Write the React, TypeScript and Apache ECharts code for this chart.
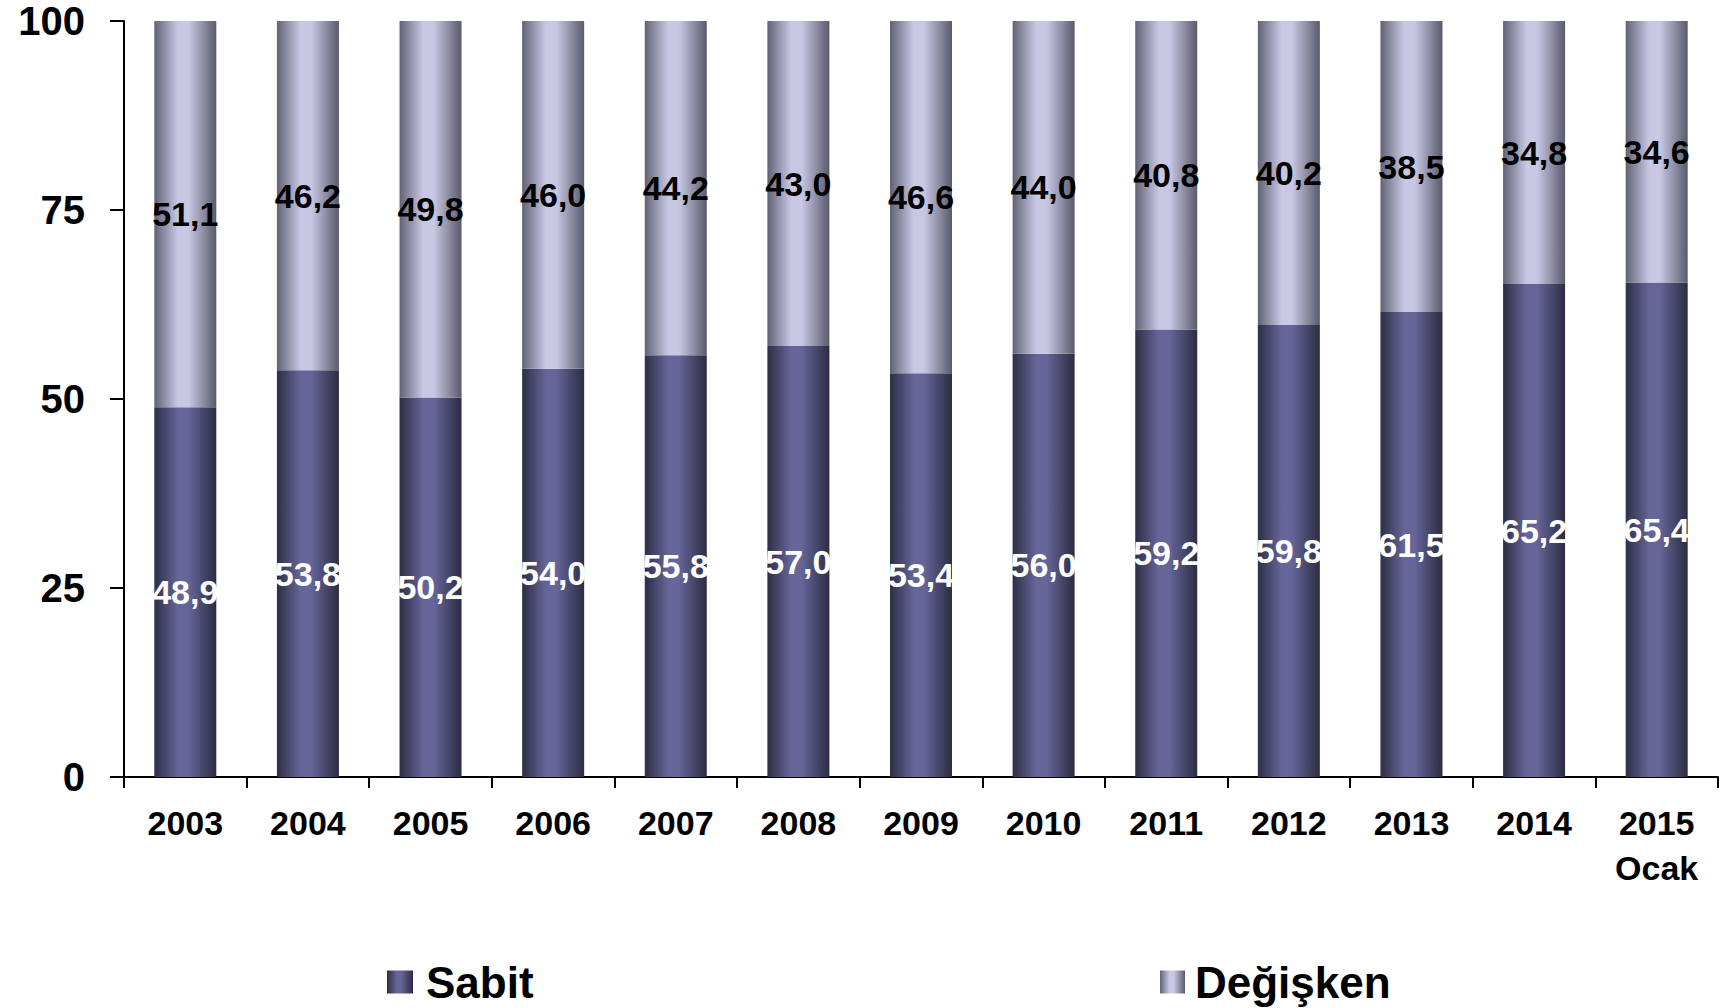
import React, { useEffect, useRef } from "react";
import * as echarts from "echarts";

const categories = ["2003", "2004", "2005", "2006", "2007", "2008", "2009", "2010", "2011", "2012", "2013", "2014", "2015\nOcak"];
const sabit = [48.9, 53.8, 50.2, 54.0, 55.8, 57.0, 53.4, 56.0, 59.2, 59.8, 61.5, 65.2, 65.4];
const degisken = [51.1, 46.2, 49.8, 46.0, 44.2, 43.0, 46.6, 44.0, 40.8, 40.2, 38.5, 34.8, 34.6];
const yTicks = { min: 0, max: 100, interval: 25 };

const FONT = "'Liberation Sans', Arial, sans-serif";

const grad = (edgeL: string, mid: string, edgeR: string) =>
  new echarts.graphic.LinearGradient(0, 0, 1, 0, [
    { offset: 0, color: edgeL },
    { offset: 0.38, color: mid },
    { offset: 0.55, color: mid },
    { offset: 1, color: edgeR },
  ]);

const fmt = (p: any) => Number(p.value).toFixed(1).replace(".", ",");

export default function App() {
  const ref = useRef<HTMLDivElement>(null);
  useEffect(() => {
    if (!ref.current) return;
    const chart = echarts.init(ref.current, null, { renderer: "svg" });
    const sabitColor = grad("#2e2e46", "#656599", "#2c2c42");
    const degColor = grad("#626276", "#c8c8e4", "#5a5a6c");
    chart.setOption({
      animation: false,
      backgroundColor: "#ffffff",
      textStyle: { fontFamily: FONT },
      grid: { left: 124, right: 2, top: 21, bottom: 231, containLabel: false },
      legend: [
        {
          data: ["Sabit"],
          left: 387,
          top: 960,
          padding: 0,
          icon: "rect",
          itemWidth: 26,
          itemHeight: 23,
          textStyle: { fontSize: 44, fontWeight: "bold", color: "#000", fontFamily: FONT, padding: [0, 0, 0, 8] },
        },
        {
          data: ["Değişken"],
          left: 1160,
          top: 960,
          padding: 0,
          icon: "rect",
          itemWidth: 25,
          itemHeight: 23,
          textStyle: { fontSize: 44, fontWeight: "bold", color: "#000", fontFamily: FONT, padding: [0, 0, 0, 5] },
        },
      ],
      xAxis: {
        type: "category",
        data: categories,
        axisLine: { lineStyle: { color: "#000", width: 2 } },
        axisTick: { show: true, length: 11, lineStyle: { color: "#000", width: 2 } },
        axisLabel: { fontSize: 34, fontWeight: "bold", color: "#000", lineHeight: 45, margin: 23, fontFamily: FONT, interval: 0 },
      },
      yAxis: {
        type: "value",
        min: yTicks.min,
        max: yTicks.max,
        interval: yTicks.interval,
        axisLine: { show: true, lineStyle: { color: "#000", width: 2 } },
        axisTick: { show: true, length: 14, lineStyle: { color: "#000", width: 2 } },
        splitLine: { show: false },
        axisLabel: { fontSize: 40, fontWeight: "bold", color: "#000", margin: 39, fontFamily: FONT },
      },
      series: [
        {
          name: "Sabit",
          type: "bar",
          stack: "t",
          barWidth: 62,
          data: sabit,
          itemStyle: { color: sabitColor },
          label: { show: true, position: "inside", formatter: fmt, color: "#fff", fontSize: 34, fontWeight: "bold", fontFamily: FONT },
        },
        {
          name: "Değişken",
          type: "bar",
          stack: "t",
          barWidth: 62,
          data: degisken,
          itemStyle: { color: degColor },
          label: { show: true, position: "inside", formatter: fmt, color: "#000", fontSize: 34, fontWeight: "bold", fontFamily: FONT },
        },
      ],
    });
    return () => chart.dispose();
  }, []);
  return <div ref={ref} style={{ position: "absolute", left: 0, top: 0, width: 1720, height: 1008 }} />;
}
